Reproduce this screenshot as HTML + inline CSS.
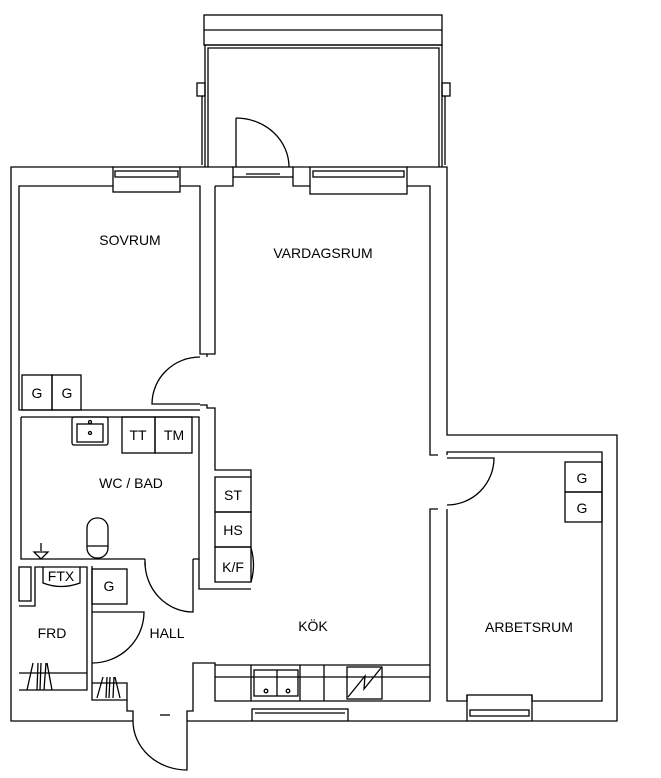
<!DOCTYPE html>
<html><head><meta charset="utf-8"><style>
html,body{margin:0;padding:0;background:#fff}
svg{display:block}
text{font-family:"Liberation Sans",sans-serif;font-size:14px;fill:#000}
</style></head><body>
<svg width="661" height="778" viewBox="0 0 661 778" fill="none" stroke="#000" stroke-width="1.3">
<!-- balcony -->
<rect x="204" y="15" width="238" height="30"/>
<line x1="204" y1="30" x2="442" y2="30"/>
<polyline points="205,167 205,45 442,45 442,167"/>
<polyline points="208,167 208,48 439,48 439,167"/>
<rect x="197" y="83" width="8" height="13"/><rect x="442" y="83" width="8" height="13"/>
<line x1="202" y1="96" x2="202" y2="165"/><line x1="445" y1="96" x2="445" y2="165"/>
<!-- outer walls -->
<polyline points="113,167 11,167 11,721 133,721"/>
<line x1="180" y1="167" x2="233" y2="167"/>
<line x1="293" y1="167" x2="310" y2="167"/>
<polyline points="407,167 447,167 447,435 617,435 617,721 532,721"/>
<line x1="187" y1="721" x2="252" y2="721"/>
<line x1="348" y1="721" x2="467" y2="721"/>
<!-- windows -->
<rect x="113" y="167" width="67" height="25"/><rect x="115" y="171" width="63" height="6"/>
<rect x="233" y="167" width="60" height="10"/><line x1="246" y1="174" x2="280" y2="174"/>
<rect x="310" y="167" width="97" height="27"/><rect x="313" y="171" width="91" height="6"/>
<rect x="252" y="709" width="96" height="12"/><line x1="255" y1="713" x2="345" y2="713"/>
<rect x="467" y="695" width="65" height="26"/><rect x="470" y="710" width="59" height="6"/>
<!-- balcony door -->
<line x1="236" y1="118" x2="236" y2="167"/><path d="M236 118 A53 49 0 0 1 289 167"/>
<!-- sovrum -->
<polyline points="113,186 19,186 19,410 200,410"/>
<polyline points="180,186 200,186 200,354 207,354"/>
<polyline points="215,186 233,186 233,177"/>
<polyline points="293,177 293,186 310,186"/>
<polyline points="407,186 430,186 430,455 438,455"/>
<polyline points="215,186 215,354 207,354 207,357"/>
<path d="M200 357 A48 47 0 0 0 152 404 L200 404"/>
<polyline points="200,405 207,405 207,408 215,408 215,470 251,470 251,477"/>
<!-- G G sovrum -->
<rect x="22" y="375" width="30" height="35"/><rect x="52" y="375" width="29" height="35"/>
<!-- bathroom -->
<polyline points="21,417 199,417 199,559 193,559"/>
<polyline points="21,417 21,559 145,559"/>
<rect x="72" y="417" width="36" height="28" rx="2"/><rect x="77" y="424" width="26" height="18"/>
<circle cx="90" cy="422" r="1.5"/><circle cx="90" cy="433" r="1.5"/>
<rect x="122" y="417" width="33" height="36"/><rect x="155" y="417" width="37" height="36"/>
<rect x="87" y="518" width="21" height="40" rx="10"/><line x1="87" y1="546" x2="108" y2="546"/>
<path d="M34 552 L48 552 L41 559 Z"/><line x1="41" y1="543" x2="41" y2="551"/>
<!-- bath door -->
<line x1="145" y1="559" x2="145" y2="566"/>
<path d="M145 562 A48 50 0 0 0 193 612 L193 559"/>
<polyline points="199,559 199,589 251,589"/>
<!-- appliances -->
<rect x="215" y="477" width="36" height="35"/><rect x="215" y="512" width="36" height="35"/><rect x="215" y="547" width="36" height="35"/>
<path d="M251 548 Q256 565 251 582"/>
<!-- hall closets -->
<rect x="19" y="567" width="12" height="34"/>
<polyline points="19,606 35,606 35,567 87,567 87,690 19,690"/>
<path d="M43 567 L43 583 Q61 590 80 583 L80 567"/>
<line x1="19" y1="673" x2="87" y2="673"/>
<line x1="92" y1="566" x2="92" y2="666"/>
<rect x="92" y="569" width="35" height="35"/>
<path d="M92 612 L144 612 A52 51 0 0 1 92 663"/>
<polyline points="92,666 92,700 127,700 127,683 92,683"/>
<polyline points="127,700 127,711 133,711 133,721"/>
<polyline points="187,721 187,711 193,711 193,663 215,663 215,701 430,701 430,509 438,509"/>
<line x1="160" y1="715" x2="170" y2="715"/>
<path d="M133 721 A54 49 0 0 0 187 770 L187 721"/>
<path d="M27 690 L33 663 M37 690 L38 663 M40 690 L41 663 M44 690 L46 663 M47 663 L52 690"/>
<path d="M97 698 L103 677 M106 698 L107 677 M109 698 L110 677 M113 698 L114 677 M115 677 L120 698"/>
<!-- kitchen counter -->
<line x1="215" y1="665" x2="430" y2="665"/>
<line x1="215" y1="677" x2="430" y2="677"/>
<line x1="251" y1="665" x2="251" y2="701"/>
<rect x="254" y="670" width="44" height="26"/><line x1="277" y1="670" x2="277" y2="696"/>
<circle cx="266" cy="691" r="1.8"/><circle cx="288" cy="691" r="1.8"/>
<line x1="300" y1="665" x2="300" y2="701"/><line x1="324" y1="665" x2="324" y2="701"/>
<rect x="347" y="667" width="35" height="32"/><path d="M348 697 L365 676 L364 689 L381 668"/>
<!-- arbetsrum -->
<polyline points="447,455 447,452 602,452 602,701 532,701 532,695"/>
<polyline points="467,695 467,701 447,701 447,509"/>
<path d="M447 458 L494 458 A47 47 0 0 1 447 505"/>
<rect x="565" y="462" width="37" height="30"/><rect x="565" y="492" width="37" height="30"/>
<g fill="#000" stroke="none">
<text x="130" y="245" text-anchor="middle">SOVRUM</text>
<text x="323" y="258" text-anchor="middle">VARDAGSRUM</text>
<text x="131" y="488" text-anchor="middle">WC / BAD</text>
<text x="313" y="631" text-anchor="middle">KÖK</text>
<text x="529" y="632" text-anchor="middle">ARBETSRUM</text>
<text x="167" y="638" text-anchor="middle">HALL</text>
<text x="52" y="638" text-anchor="middle">FRD</text>
<text x="37" y="398" text-anchor="middle">G</text><text x="67" y="398" text-anchor="middle">G</text>
<text x="138" y="440" text-anchor="middle">TT</text><text x="174" y="440" text-anchor="middle">TM</text>
<text x="233" y="500" text-anchor="middle">ST</text><text x="233" y="535" text-anchor="middle">HS</text><text x="233" y="572" text-anchor="middle">K/F</text>
<text x="61" y="581" text-anchor="middle">FTX</text>
<text x="109" y="591" text-anchor="middle">G</text>
<text x="582" y="483" text-anchor="middle">G</text><text x="582" y="513" text-anchor="middle">G</text>
</g>
</svg>
</body></html>
